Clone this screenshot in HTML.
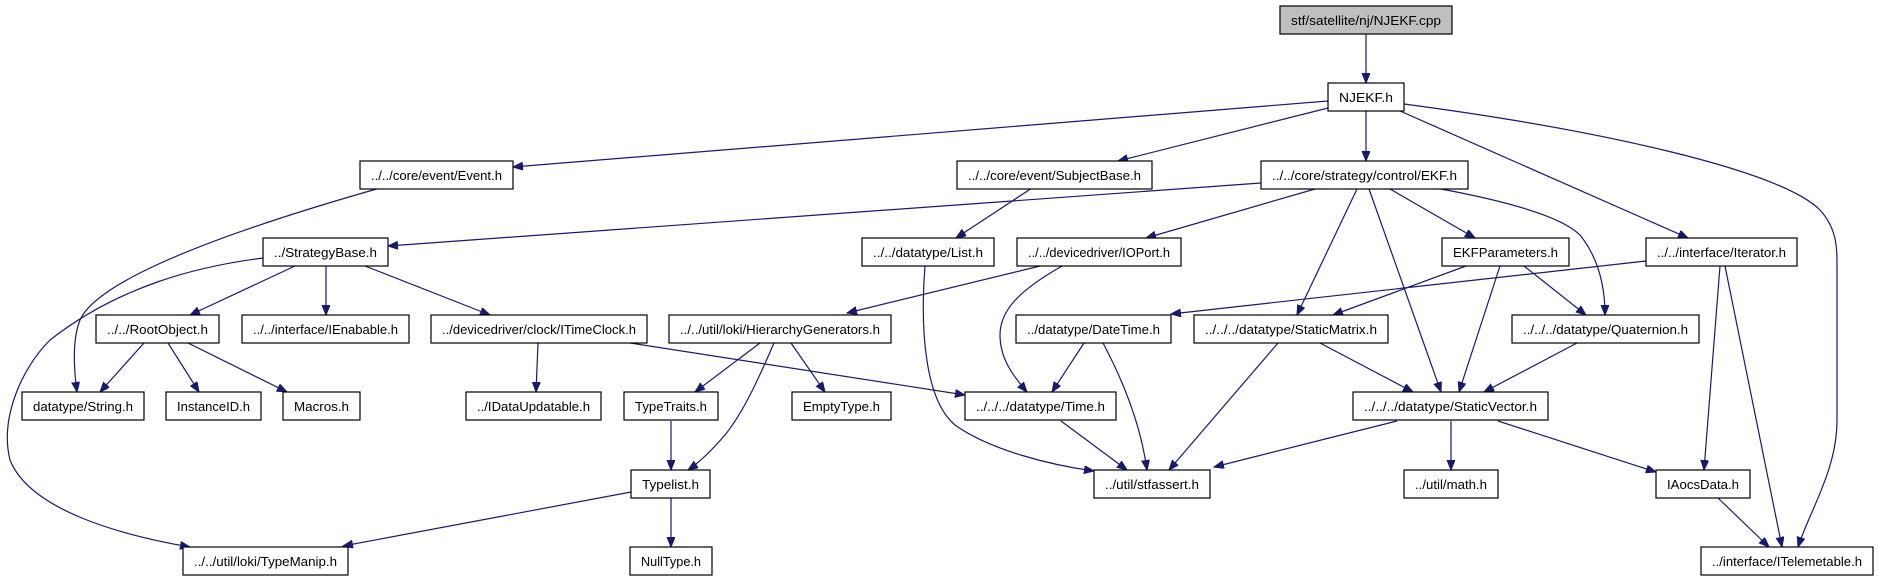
<!DOCTYPE html>
<html><head><meta charset="utf-8"><style>
html,body{margin:0;padding:0;background:#fff;}
svg{display:block;}
text{font-family:"Liberation Sans",sans-serif;font-size:13px;fill:#000;}
</style></head><body>
<svg width="1878" height="581" viewBox="0 0 1878 581" xmlns="http://www.w3.org/2000/svg">
<defs>
<marker id="a" markerUnits="userSpaceOnUse" markerWidth="11" markerHeight="9" refX="10" refY="4" orient="auto">
<path d="M0,0 L10,4 L0,8 z" fill="#191970" stroke="#191970"/>
</marker>
</defs>
<g fill="none" stroke="#191970" stroke-width="1.2" marker-end="url(#a)">
<path d="M1366,34 L1366,83"/>
<path d="M1328,101 L513,167"/>
<path d="M1328,108 L1118,161"/>
<path d="M1366,111 L1366,161"/>
<path d="M1400,111 L1688,238"/>
<path d="M1404,104 C1600,130 1780,170 1820,210 C1838,230 1837,250 1837,270 L1837,420 C1837,470 1810,510 1798,547"/>
<path d="M380,188 C250,225 100,275 80,320 C72,340 74,370 77,392"/>
<path d="M1261,183 L388,246"/>
<path d="M1315,189 L1146,238"/>
<path d="M1357,189 L1297,315"/>
<path d="M1369,189 L1441,392"/>
<path d="M1390,189 L1475,238"/>
<path d="M1441,189 C1500,200 1560,215 1580,235 C1600,260 1605,290 1605,315"/>
<path d="M1032,188 L956,238"/>
<path d="M263,258 C200,266 120,285 50,340 C20,370 0,420 10,460 C30,510 120,535 190,547"/>
<path d="M295,266 L190,315"/>
<path d="M326,266 L326,315"/>
<path d="M365,266 L490,315"/>
<path d="M144,343 L100,392"/>
<path d="M168,343 L199,392"/>
<path d="M188,343 L287,392"/>
<path d="M538,343 L536,392"/>
<path d="M630,343 L965,395"/>
<path d="M925,266 C920,330 925,400 955,425 C990,450 1050,465 1094,471"/>
<path d="M1040,266 L847,313"/>
<path d="M1062,266 C1020,290 1000,310 1000,335 C1000,360 1015,378 1027,392"/>
<path d="M760,343 L695,392"/>
<path d="M774,343 C760,375 745,410 725,435 C712,450 700,462 688,470"/>
<path d="M791,343 L825,392"/>
<path d="M671,421 L671,470"/>
<path d="M631,492 L343,546"/>
<path d="M671,498 L671,547"/>
<path d="M1084,343 L1052,392"/>
<path d="M1103,343 C1120,375 1140,420 1147,470"/>
<path d="M1061,421 L1127,470"/>
<path d="M1278,343 L1169,470"/>
<path d="M1320,343 L1413,392"/>
<path d="M1397,421 L1214,467"/>
<path d="M1451,421 L1451,470"/>
<path d="M1498,421 L1656,472"/>
<path d="M1466,266 L1333,315"/>
<path d="M1500,266 L1459,392"/>
<path d="M1524,266 L1586,315"/>
<path d="M1646,261 L1171,314"/>
<path d="M1720,266 L1704,470"/>
<path d="M1725,266 L1782,547"/>
<path d="M1577,343 L1484,392"/>
<path d="M1718,498 L1769,547"/>
</g>
<g stroke="#000" stroke-width="1.2" fill="#fff">
<rect x="1280" y="6" width="172" height="28" fill="#bfbfbf"/>
<rect x="1328" y="83" width="76" height="28"/>
<rect x="360" y="161" width="153" height="28"/>
<rect x="957" y="161" width="195" height="28"/>
<rect x="1261" y="161" width="207" height="28"/>
<rect x="263" y="238" width="125" height="28"/>
<rect x="862" y="238" width="132" height="28"/>
<rect x="1017" y="238" width="164" height="28"/>
<rect x="1442" y="238" width="127" height="28"/>
<rect x="1646" y="238" width="151" height="28"/>
<rect x="96" y="315" width="123" height="28"/>
<rect x="242" y="315" width="167" height="28"/>
<rect x="431" y="315" width="216" height="28"/>
<rect x="669" y="315" width="222" height="28"/>
<rect x="1016" y="315" width="155" height="28"/>
<rect x="1194" y="315" width="194" height="28"/>
<rect x="1512" y="315" width="187" height="28"/>
<rect x="22" y="392" width="122" height="28"/>
<rect x="166" y="392" width="95" height="28"/>
<rect x="283" y="392" width="77" height="28"/>
<rect x="466" y="392" width="135" height="28"/>
<rect x="624" y="392" width="94" height="28"/>
<rect x="792" y="392" width="99" height="28"/>
<rect x="965" y="392" width="151" height="28"/>
<rect x="1353" y="392" width="195" height="28"/>
<rect x="631" y="470" width="79" height="28"/>
<rect x="1094" y="470" width="116" height="28"/>
<rect x="1404" y="470" width="94" height="28"/>
<rect x="1656" y="470" width="94" height="28"/>
<rect x="183" y="547" width="165" height="28"/>
<rect x="630" y="547" width="82" height="28"/>
<rect x="1701" y="547" width="172" height="28"/>
</g>
<g text-anchor="middle" lengthAdjust="spacingAndGlyphs">
<text x="1366" y="25" textLength="150" lengthAdjust="spacingAndGlyphs">stf/satellite/nj/NJEKF.cpp</text>
<text x="1366" y="102" textLength="54" lengthAdjust="spacingAndGlyphs">NJEKF.h</text>
<text x="436.5" y="180" textLength="131" lengthAdjust="spacingAndGlyphs">../../core/event/Event.h</text>
<text x="1054.5" y="180" textLength="173" lengthAdjust="spacingAndGlyphs">../../core/event/SubjectBase.h</text>
<text x="1364.5" y="180" textLength="185" lengthAdjust="spacingAndGlyphs">../../core/strategy/control/EKF.h</text>
<text x="325.5" y="257" textLength="103" lengthAdjust="spacingAndGlyphs">../StrategyBase.h</text>
<text x="928" y="257" textLength="110" lengthAdjust="spacingAndGlyphs">../../datatype/List.h</text>
<text x="1099" y="257" textLength="142" lengthAdjust="spacingAndGlyphs">../../devicedriver/IOPort.h</text>
<text x="1505.5" y="257" textLength="105" lengthAdjust="spacingAndGlyphs">EKFParameters.h</text>
<text x="1721.5" y="257" textLength="129" lengthAdjust="spacingAndGlyphs">../../interface/Iterator.h</text>
<text x="157.5" y="334" textLength="101" lengthAdjust="spacingAndGlyphs">../../RootObject.h</text>
<text x="325.5" y="334" textLength="145" lengthAdjust="spacingAndGlyphs">../../interface/IEnabable.h</text>
<text x="539" y="334" textLength="194" lengthAdjust="spacingAndGlyphs">../devicedriver/clock/ITimeClock.h</text>
<text x="780" y="334" textLength="200" lengthAdjust="spacingAndGlyphs">../../util/loki/HierarchyGenerators.h</text>
<text x="1093.5" y="334" textLength="133" lengthAdjust="spacingAndGlyphs">../datatype/DateTime.h</text>
<text x="1291" y="334" textLength="172" lengthAdjust="spacingAndGlyphs">../../../datatype/StaticMatrix.h</text>
<text x="1605.5" y="334" textLength="165" lengthAdjust="spacingAndGlyphs">../../../datatype/Quaternion.h</text>
<text x="83" y="411" textLength="100" lengthAdjust="spacingAndGlyphs">datatype/String.h</text>
<text x="213.5" y="411" textLength="73" lengthAdjust="spacingAndGlyphs">InstanceID.h</text>
<text x="321.5" y="411" textLength="55" lengthAdjust="spacingAndGlyphs">Macros.h</text>
<text x="533.5" y="411" textLength="113" lengthAdjust="spacingAndGlyphs">../IDataUpdatable.h</text>
<text x="671" y="411" textLength="72" lengthAdjust="spacingAndGlyphs">TypeTraits.h</text>
<text x="841.5" y="411" textLength="77" lengthAdjust="spacingAndGlyphs">EmptyType.h</text>
<text x="1040.5" y="411" textLength="129" lengthAdjust="spacingAndGlyphs">../../../datatype/Time.h</text>
<text x="1450.5" y="411" textLength="173" lengthAdjust="spacingAndGlyphs">../../../datatype/StaticVector.h</text>
<text x="670.5" y="489" textLength="57" lengthAdjust="spacingAndGlyphs">Typelist.h</text>
<text x="1152" y="489" textLength="94" lengthAdjust="spacingAndGlyphs">../util/stfassert.h</text>
<text x="1451" y="489" textLength="72" lengthAdjust="spacingAndGlyphs">../util/math.h</text>
<text x="1703" y="489" textLength="72" lengthAdjust="spacingAndGlyphs">IAocsData.h</text>
<text x="265.5" y="566" textLength="143" lengthAdjust="spacingAndGlyphs">../../util/loki/TypeManip.h</text>
<text x="671" y="566" textLength="60" lengthAdjust="spacingAndGlyphs">NullType.h</text>
<text x="1787" y="566" textLength="150" lengthAdjust="spacingAndGlyphs">../interface/ITelemetable.h</text>
</g>
</svg>
</body></html>
